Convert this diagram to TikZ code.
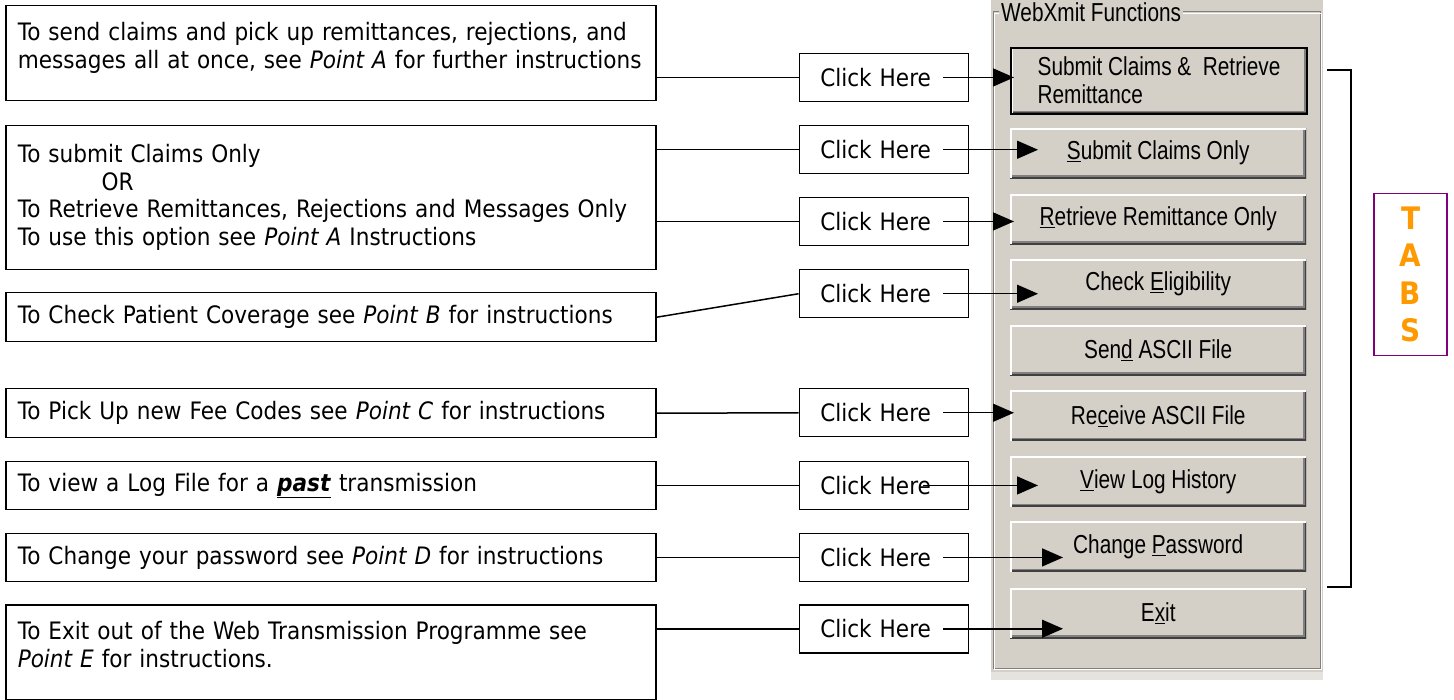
\documentclass[tikz,border=0pt]{standalone}
\usepackage{fontspec}
\setmainfont{DejaVu Sans}[FakeStretch=0.9]
\newfontfamily\btnfont{Liberation Sans}[FakeStretch=0.8]
\usetikzlibrary{arrows.meta,calc}
\definecolor{btnface}{HTML}{D4D0C8}
\definecolor{btnshadow}{HTML}{808080}
\definecolor{btndark}{HTML}{404040}
\definecolor{tabpurple}{HTML}{800080}
\definecolor{taborange}{HTML}{FF9900}
\tikzset{
  lbox/.style={draw, line width=1.5pt, anchor=north west, minimum width=650pt, inner xsep=12pt, inner ysep=0pt,
    text width=626pt, align=left, font=\fontsize{24pt}{27.5pt}\selectfont},
  clickbox/.style={draw, line width=1.5pt, anchor=north west, minimum height=48pt, inner xsep=21pt,
    text width=127pt, align=left, font=\fontsize{24pt}{27.5pt}\selectfont},
  winbtn/.style={fill=btnface, anchor=north west, minimum width=296pt, minimum height=50pt, inner sep=0pt,
    font=\btnfont\fontsize{26pt}{28pt}\selectfont,
    path picture={
      \draw[btnshadow, line width=6pt] (path picture bounding box.south west) -| (path picture bounding box.north east);
      \draw[btndark, line width=3pt] (path picture bounding box.south west) -| (path picture bounding box.north east);
      \draw[white, line width=3pt] (path picture bounding box.south west) |- (path picture bounding box.north east);}},
  link/.style={line width=1.5pt},
  pointer/.style={line width=1.5pt, ->}
}
\begin{document}
\begin{tikzpicture}[x=1pt, y=-1pt, >={Triangle[length=21pt,width=18pt]}]
\useasboundingbox (0,0) rectangle (1454,700);

% function panel
\fill[btnface] (991,0) rectangle (1323,680);
\fill[btnface!60!white] (991,672) rectangle (1323,680);
\draw[btnshadow, line width=1pt] (993,12) rectangle (1320,668);
\draw[white, line width=1pt] (994.5,13.5) rectangle (1321.5,669.5);
\node[fill=btnface, anchor=west, inner xsep=2pt, inner ysep=0pt, font=\btnfont\fontsize{26pt}{28pt}\selectfont] (title) at (999,12) {WebXmit Functions};

\node[winbtn, minimum height=66pt, draw=black, line width=2pt, align=left] (b1) at (1010,46.7) {Submit Claims \&\ \ Retrieve\\Remittance};
\node[winbtn] (b2) at (1010,128) {\underline{S}ubmit Claims Only};
\node[winbtn] (b3) at (1010,194) {\underline{R}etrieve Remittance Only};
\node[winbtn] (b4) at (1010,259) {Check \underline{E}ligibility};
\node[winbtn] (b5) at (1010,325) {Sen\underline{d} ASCII File};
\node[winbtn] (b6) at (1010,390.7) {Re\underline{c}eive ASCII File};
\node[winbtn] (b7) at (1010,456.7) {\underline{V}iew Log History};
\node[winbtn] (b8) at (1010,521.7) {Change \underline{P}assword};
\node[winbtn] (b9) at (1010,588) {E\underline{x}it};

% descriptions
\node[lbox, text height=35pt, text depth=60pt] (t1) at (5,5) {To send claims and pick up remittances, rejections, and\\messages all at once, see \textit{Point A} for further instructions};
\node[lbox, minimum height=143.7pt] (t2) at (5,125) {To submit Claims Only\\\hspace*{84pt}OR\\To Retrieve Remittances, Rejections and Messages Only\\To use this option see \textit{Point A} Instructions};
\node[lbox, minimum height=49pt] (t3) at (5,292) {To Check Patient Coverage see \textit{Point B} for instructions};
\node[lbox, minimum height=49pt] (t4) at (5,388) {To Pick Up new Fee Codes see \textit{Point C} for instructions};
\node[lbox, minimum height=48pt] (t5) at (5,460.7) {To view a Log File for a \underline{\textbf{\textit{past}}} transmission};
\node[lbox, minimum height=48pt] (t6) at (5,532.7) {To Change your password see \textit{Point D} for instructions};
\node[lbox, text height=35pt, text depth=60pt] (t7) at (5,604) {To Exit out of the Web Transmission Programme see\\\textit{Point E} for instructions.};

\node[clickbox] (c1) at (798.5,52.7) {Click Here};
\node[clickbox] (c2) at (798.5,125) {Click Here};
\node[clickbox] (c3) at (798.5,196.7) {Click Here};
\node[clickbox] (c4) at (798.5,269) {Click Here};
\node[clickbox] (c5) at (798.5,388) {Click Here};
\node[clickbox] (c6) at (798.5,460.7) {Click Here};
\node[clickbox] (c7) at (798.5,532.7) {Click Here};
\node[clickbox] (c8) at (798.5,604) {Click Here};

\draw[link] (t1.east |- c1.west) -- (c1.west);
\draw[link] (t2.east |- c2.west) -- (c2.west);
\draw[link] (t2.east |- c3.west) -- (c3.west);
\draw[link] (t3.east) -- (c4.west);
\draw[link] (t4.east) -- (c5.west);
\draw[link] (t5.east) -- (c6.west);
\draw[link] (t6.east) -- (c7.west);
\draw[link] (t7.east |- c8.west) -- (c8.west);

\draw[pointer] ($(c1.east)+(-26,0)$) -- ($(b1.west |- c1.east)+(4,0)$);
\draw[pointer] ($(c2.east)+(-26,0)$) -- ($(b2.west |- c2.east)+(28,0)$);
\draw[pointer] ($(c3.east)+(-26,0)$) -- ($(b3.west |- c3.east)+(4,0)$);
\draw[pointer] ($(c4.east)+(-26,0)$) -- ($(b4.west |- c4.east)+(28,0)$);
\draw[pointer] ($(c5.east)+(-26,0)$) -- ($(b6.west |- c5.east)+(4,0)$);
\draw[pointer] ($(c6.east)+(-46,0)$) -- ($(b7.west |- c6.east)+(28,0)$);
\draw[pointer] ($(c7.east)+(-26,0)$) -- ($(b8.west |- c7.east)+(53,0)$);
\draw[pointer] ($(c8.east)+(-26,0)$) -- ($(b9.west |- c8.east)+(53,0)$);

% tabs bracket
\draw[line width=1.5pt] (1327,70) -| (1351,587) -- (1327,587);
\node[draw=tabpurple, line width=1.5pt, minimum width=73pt, minimum height=162pt, align=center, text=taborange,
  font=\bfseries\fontsize{31pt}{37.3pt}\selectfont] (tabs) at (1410.5,274.3) {T\\A\\B\\S};
\end{tikzpicture}
\end{document}
